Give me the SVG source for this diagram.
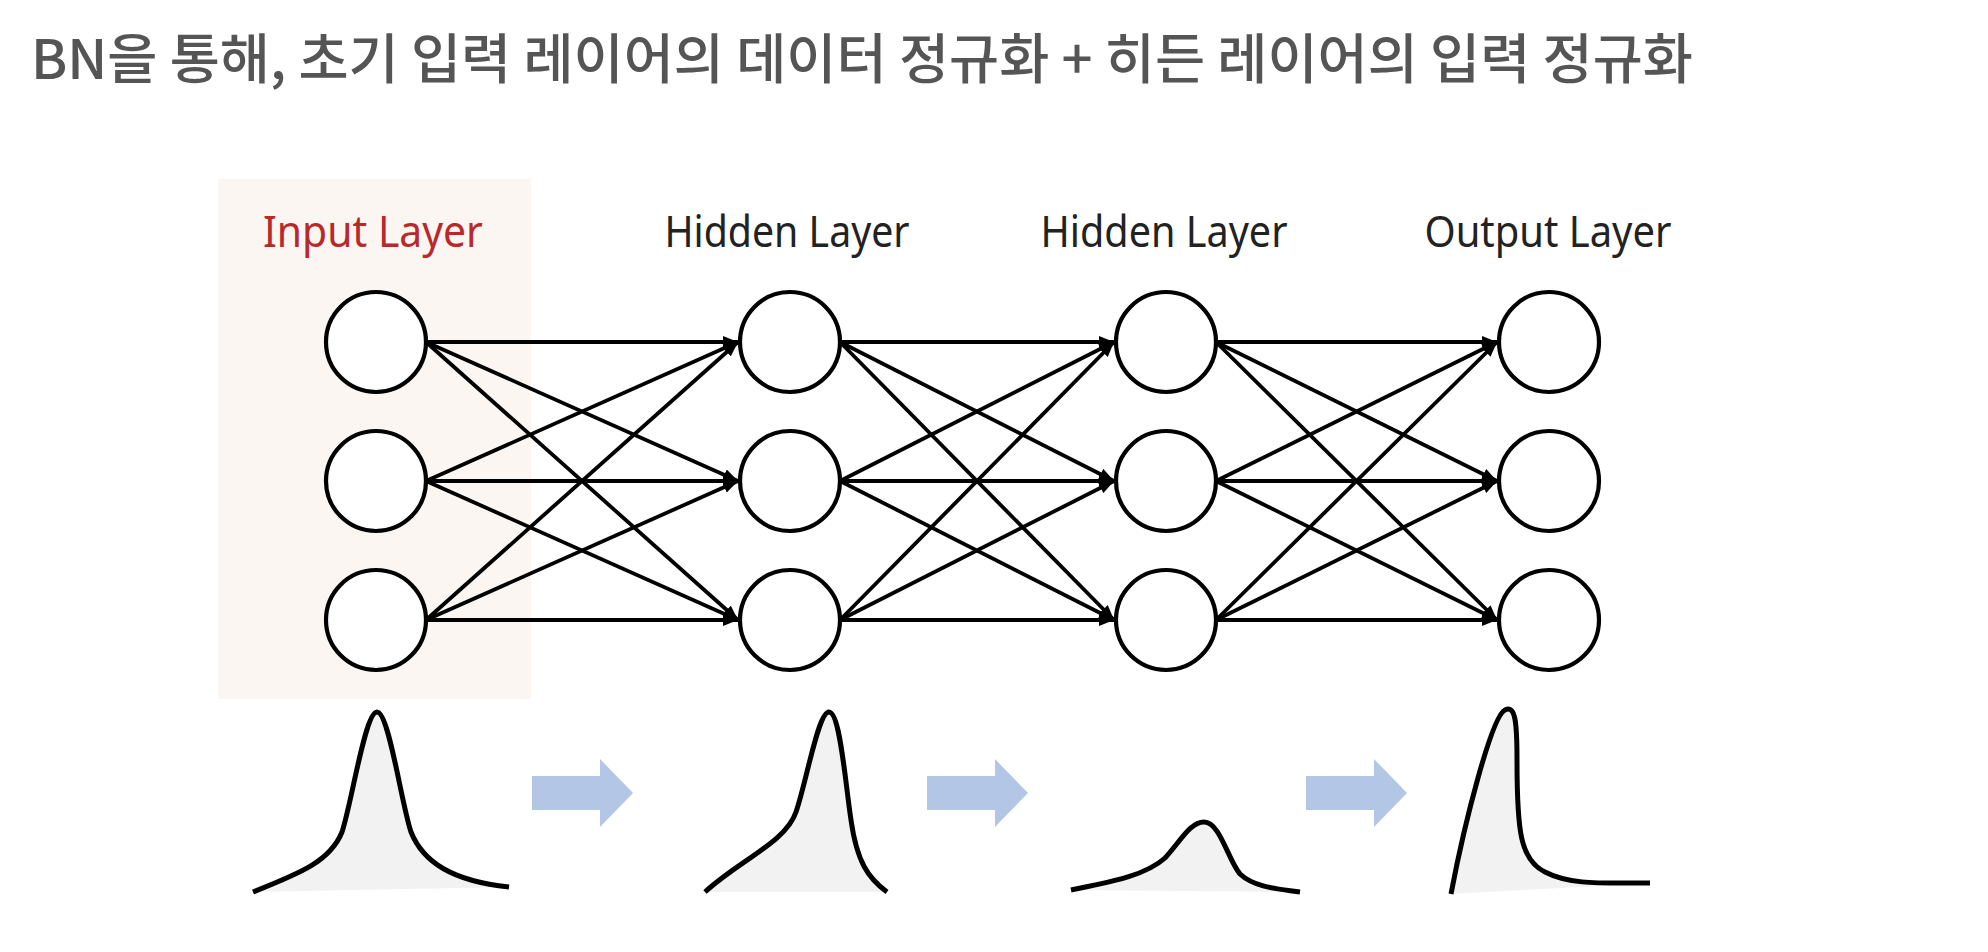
<svg xmlns="http://www.w3.org/2000/svg" width="1988" height="952" viewBox="0 0 1988 952">
  <style>
    .title { font-family: "Noto Sans CJK KR", "Noto Sans", sans-serif; font-size: 54px; font-weight: 500; fill: #555555; }
    .label { font-family: "Noto Sans", "Open Sans", sans-serif; font-size: 43px; fill: #222222; text-anchor: middle; }
    .label.input { fill: #b8292a; }
    .node circle { fill: #ffffff; stroke: #000000; stroke-width: 4.2; }
    .edges line { stroke: #000000; stroke-width: 3.8; marker-end: url(#arrow); }
    .dist { fill: #f2f2f2; stroke: #000000; stroke-width: 5; stroke-linecap: butt; stroke-linejoin: round; }
    .flow { fill: #b4c6e6; }
  </style>
  <defs>
    <marker id="arrow" markerUnits="userSpaceOnUse" markerWidth="15" markerHeight="12" refX="15" refY="6" orient="auto">
      <path d="M0,0 L15,6 L0,12 Z" fill="#000000"/>
    </marker>
  </defs>
  <rect width="1988" height="952" fill="#ffffff"/>

  <text id="title" class="title" x="31" y="79" textLength="1662" lengthAdjust="spacingAndGlyphs">BN을 통해, 초기 입력 레이어의 데이터 정규화 + 히든 레이어의 입력 정규화</text>

  <rect id="input-highlight" x="218" y="179" width="313" height="520" fill="#fbf6f2"/>

  <g id="labels">
    <text class="label input" x="373" y="247" textLength="220" lengthAdjust="spacingAndGlyphs">Input Layer</text>
    <text class="label" x="787" y="247" textLength="245" lengthAdjust="spacingAndGlyphs">Hidden Layer</text>
    <text class="label" x="1164" y="247" textLength="247" lengthAdjust="spacingAndGlyphs">Hidden Layer</text>
    <text class="label" x="1548" y="247" textLength="247" lengthAdjust="spacingAndGlyphs">Output Layer</text>
  </g>

  <g id="connectors" class="edges">
    <line x1="426" y1="342" x2="738" y2="342"/>
    <line x1="426" y1="342" x2="738" y2="481"/>
    <line x1="426" y1="342" x2="738" y2="620"/>
    <line x1="426" y1="481" x2="738" y2="342"/>
    <line x1="426" y1="481" x2="738" y2="481"/>
    <line x1="426" y1="481" x2="738" y2="620"/>
    <line x1="426" y1="620" x2="738" y2="342"/>
    <line x1="426" y1="620" x2="738" y2="481"/>
    <line x1="426" y1="620" x2="738" y2="620"/>

    <line x1="840" y1="342" x2="1114" y2="342"/>
    <line x1="840" y1="342" x2="1114" y2="481"/>
    <line x1="840" y1="342" x2="1114" y2="620"/>
    <line x1="840" y1="481" x2="1114" y2="342"/>
    <line x1="840" y1="481" x2="1114" y2="481"/>
    <line x1="840" y1="481" x2="1114" y2="620"/>
    <line x1="840" y1="620" x2="1114" y2="342"/>
    <line x1="840" y1="620" x2="1114" y2="481"/>
    <line x1="840" y1="620" x2="1114" y2="620"/>

    <line x1="1216" y1="342" x2="1497" y2="342"/>
    <line x1="1216" y1="342" x2="1497" y2="481"/>
    <line x1="1216" y1="342" x2="1497" y2="620"/>
    <line x1="1216" y1="481" x2="1497" y2="342"/>
    <line x1="1216" y1="481" x2="1497" y2="481"/>
    <line x1="1216" y1="481" x2="1497" y2="620"/>
    <line x1="1216" y1="620" x2="1497" y2="342"/>
    <line x1="1216" y1="620" x2="1497" y2="481"/>
    <line x1="1216" y1="620" x2="1497" y2="620"/>
  </g>

  <g id="input-layer">
    <g id="in1" class="node"><circle cx="376" cy="342" r="50"/></g>
    <g id="in2" class="node"><circle cx="376" cy="481" r="50"/></g>
    <g id="in3" class="node"><circle cx="376" cy="620" r="50"/></g>
  </g>
  <g id="hidden-layer-1">
    <g id="h1a" class="node"><circle cx="790" cy="342" r="50"/></g>
    <g id="h1b" class="node"><circle cx="790" cy="481" r="50"/></g>
    <g id="h1c" class="node"><circle cx="790" cy="620" r="50"/></g>
  </g>
  <g id="hidden-layer-2">
    <g id="h2a" class="node"><circle cx="1166" cy="342" r="50"/></g>
    <g id="h2b" class="node"><circle cx="1166" cy="481" r="50"/></g>
    <g id="h2c" class="node"><circle cx="1166" cy="620" r="50"/></g>
  </g>
  <g id="output-layer">
    <g id="out1" class="node"><circle cx="1549" cy="342" r="50"/></g>
    <g id="out2" class="node"><circle cx="1549" cy="481" r="50"/></g>
    <g id="out3" class="node"><circle cx="1549" cy="620" r="50"/></g>
  </g>

  <g id="distributions">
    <path id="dist1" class="dist" d="M253,892 C298,874 330,862 342,832 C352,802 365,712 377,712 C389,712 401,802 411,832 C423,862 452,881 509,887"/>
    <path id="dist2" class="dist" d="M705,892 C740,860 786,842 796,812 C807,780 818,712 829,712 C840,712 845,780 851,820 C857,862 868,878 887,892"/>
    <path id="dist3" class="dist" d="M1071,890 C1110,882 1145,876 1165,858 C1180,842 1190,822 1204,822 C1220,822 1228,860 1240,874 C1255,888 1280,889 1300,892"/>
    <path id="dist4" class="dist" d="M1451,894 C1465,820 1492,716 1505,710 C1515,705 1517,720 1517,760 C1517,830 1520,860 1545,872 C1570,885 1600,883 1650,883"/>
  </g>

  <g id="flow-arrows">
    <polygon class="flow" points="532,776 600,776 600,759 633,793 600,827 600,810 532,810"/>
    <polygon class="flow" points="927,776 995,776 995,759 1028,793 995,827 995,810 927,810"/>
    <polygon class="flow" points="1306,776 1374,776 1374,759 1407,793 1374,827 1374,810 1306,810"/>
  </g>
</svg>
